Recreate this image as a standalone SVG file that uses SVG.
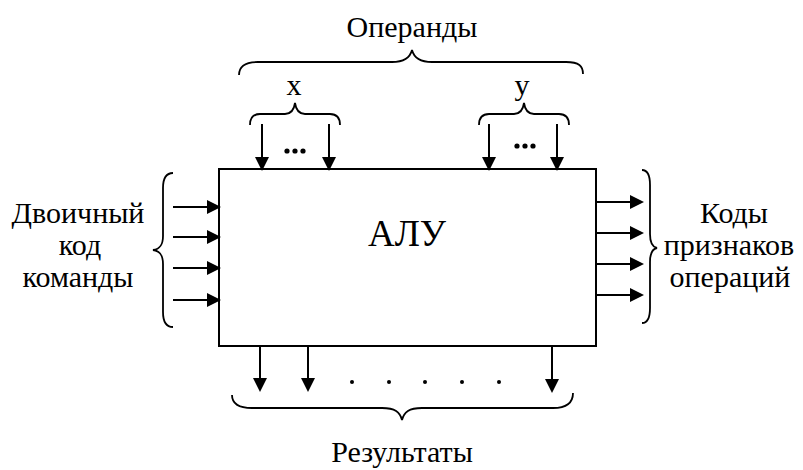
<svg xmlns="http://www.w3.org/2000/svg" width="803" height="470" viewBox="0 0 803 470">
<style>
  text { font-family: 'Liberation Serif', 'Times New Roman', serif; font-size: 30px; fill: #000; text-anchor: middle; }
  .box { fill: #fff; stroke: #000; stroke-width: 2; }
  .arr { stroke: #000; stroke-width: 2; fill: none; marker-end: url(#ah); }
  .br { stroke: #000; stroke-width: 1.8; fill: none; }
  .dot { fill: #000; }
</style>
<defs>
  <marker id="ah" viewBox="0 0 14 14" refX="12" refY="7" markerWidth="14" markerHeight="14" markerUnits="userSpaceOnUse" orient="auto">
    <path d="M0,0 L14,7 L0,14 z" fill="#000"/>
  </marker>
</defs>
<rect width="803" height="470" fill="#fff"/>

<g id="alu">
  <rect class="box" x="219" y="169" width="377" height="177"/>
  <text x="407" y="246" style="font-size:37px">АЛУ</text>
</g>

<g id="operands">
  <text x="412" y="37">Операнды</text>
  <path class="br" d="M239,75 C239,66 245,62 258,62 L392,62 C404,62 410,58 412,50 C414,58 420,62 432,62 L566,62 C579,62 583,66 583,74"/>
</g>

<g id="operand-x">
  <text x="294" y="95">x</text>
  <path class="br" d="M250,125 C250,118 253,114 260,114 L285,114 C291,114 294,110 295,103 C296,110 299,114 305,114 L330,114 C337,114 340,118 340,125"/>
  <circle class="dot" cx="287" cy="151" r="2.6"/>
  <circle class="dot" cx="295" cy="151" r="2.6"/>
  <circle class="dot" cx="303" cy="151" r="2.6"/>
</g>

<g id="operand-y">
  <text x="522" y="95">y</text>
  <path class="br" d="M479,125 C479,118 482,114 489,114 L514,114 C520,114 523,110 524,103 C525,110 528,114 534,114 L559,114 C566,114 569,118 569,125"/>
  <circle class="dot" cx="517" cy="146" r="2.6"/>
  <circle class="dot" cx="525" cy="146" r="2.6"/>
  <circle class="dot" cx="533" cy="146" r="2.6"/>
</g>

<g id="command-code">
  <text x="78" y="223">Двоичный</text>
  <text x="80" y="255">код</text>
  <text x="78" y="287">команды</text>
  <path class="br" d="M173,173 C167,173 163,177 163,188 L163,236 C163,245 160,249 153,250 C160,251 163,255 163,264 L163,312 C163,323 167,327 173,327"/>
</g>

<g id="flags">
  <text x="734" y="223">Коды</text>
  <text x="729" y="255">признаков</text>
  <text x="730" y="287">операций</text>
  <path class="br" d="M642,170 C647,170 650,174 650,185 L650,234 C650,243 652,247 657,248 C652,249 650,253 650,262 L650,308 C650,319 647,323 642,323"/>
</g>

<g id="results">
  <path class="br" d="M232,395 C232,403 238,408 252,408 L382,408 C395,408 400,412 402,420 C404,412 409,408 422,408 L553,408 C567,408 573,403 573,393"/>
  <circle class="dot" cx="352" cy="382" r="2"/>
  <circle class="dot" cx="389" cy="382" r="2"/>
  <circle class="dot" cx="425" cy="382" r="2"/>
  <circle class="dot" cx="462" cy="382" r="2"/>
  <circle class="dot" cx="499" cy="382" r="2"/>
  <text x="402" y="462">Результаты</text>
</g>

<g id="connectors">
  <line class="arr" x1="262" y1="124" x2="262" y2="169"/>
  <line class="arr" x1="329" y1="124" x2="329" y2="169"/>
  <line class="arr" x1="489" y1="124" x2="489" y2="169"/>
  <line class="arr" x1="557" y1="124" x2="557" y2="169"/>

  <line class="arr" x1="173" y1="207" x2="219" y2="207"/>
  <line class="arr" x1="173" y1="237" x2="219" y2="237"/>
  <line class="arr" x1="173" y1="268" x2="219" y2="268"/>
  <line class="arr" x1="173" y1="300" x2="219" y2="300"/>

  <line class="arr" x1="596" y1="202" x2="642" y2="202"/>
  <line class="arr" x1="596" y1="233" x2="642" y2="233"/>
  <line class="arr" x1="596" y1="264" x2="642" y2="264"/>
  <line class="arr" x1="596" y1="295" x2="642" y2="295"/>

  <line class="arr" x1="260" y1="346" x2="260" y2="390"/>
  <line class="arr" x1="308" y1="346" x2="308" y2="390"/>
  <line class="arr" x1="552" y1="346" x2="552" y2="391"/>
</g>
</svg>
